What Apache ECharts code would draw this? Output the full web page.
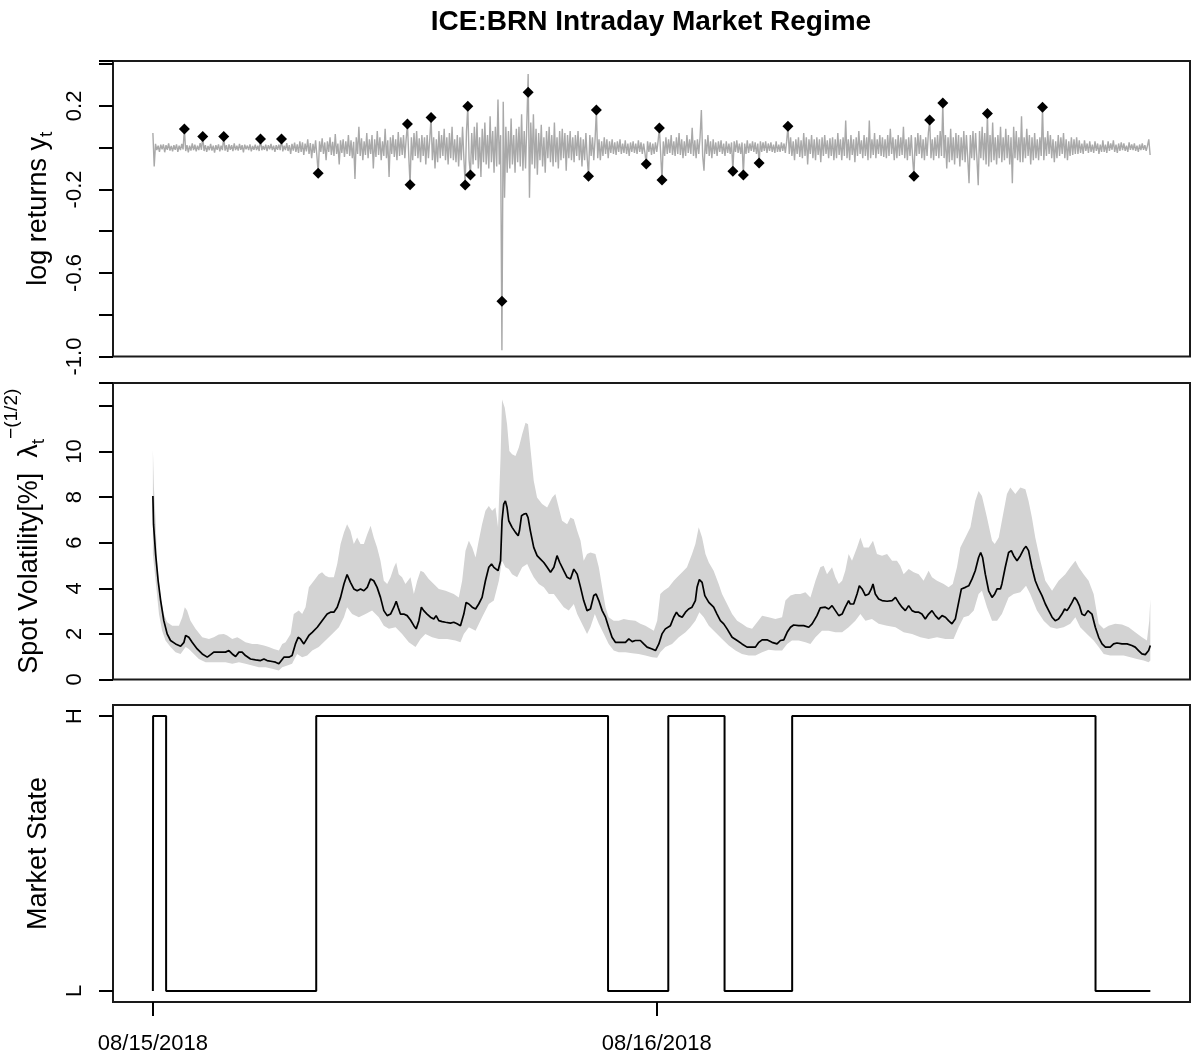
<!DOCTYPE html>
<html>
<head>
<meta charset="utf-8">
<script src="https://cdn.jsdelivr.net/npm/echarts@6/dist/echarts.min.js"></script>
<style>html,body{margin:0;padding:0;background:#fff}#c{width:1193px;height:1055px}</style>
</head>
<body>
<div id="c"></div>
<script>
// ---------- DATA ----------
var titleText = 'ICE:BRN Intraday Market Regime';
var dateTicks = [0, 24];
var dateLabels = ['08/15/2018', '08/16/2018'];
var retTicksLabelled = ['0.2', '-0.2', '-0.6', '-1.0'];
var stateLabels = ['L', 'H'];

// log returns on a regular grid, step (hours); one row = one hour
var retStep = 0.0625;
var retVals = [
0.07,-0.09,0.018,-0.012,0.01,-0.02,0.014,-0.008,0.016,-0.022,0.012,-0.01,0.02,-0.014,0.008,-0.018,
0.012,-0.01,0.016,-0.02,0.01,-0.012,0.018,-0.008,0.089,-0.016,0.012,-0.022,0.01,-0.014,0.02,-0.012,
0.014,-0.018,0.01,-0.012,0.022,-0.01,0.053,-0.016,0.012,-0.02,0.008,-0.012,0.018,-0.014,0.01,-0.024,
0.012,-0.01,0.016,-0.018,0.01,-0.012,0.053,-0.014,0.012,-0.02,0.016,-0.01,0.012,-0.016,0.02,-0.012,
0.01,-0.014,0.018,-0.01,0.012,-0.022,0.014,-0.008,0.01,-0.012,0.016,-0.018,0.008,-0.01,0.014,-0.012,
0.01,-0.016,0.042,-0.012,0.008,-0.01,0.014,-0.016,0.012,-0.008,0.018,-0.012,0.01,-0.02,0.012,-0.01,
0.014,-0.012,0.042,-0.018,0.01,-0.012,0.022,-0.016,0.012,-0.03,0.018,-0.014,0.024,-0.02,0.016,-0.025,
0.03,-0.02,0.025,-0.035,0.02,-0.018,0.04,-0.03,0.022,-0.05,0.018,-0.025,0.035,-0.04,-0.123,0.03,
-0.02,0.045,-0.03,0.025,-0.06,0.03,-0.02,0.05,-0.035,0.028,-0.04,0.065,-0.03,0.02,-0.08,0.035,
-0.025,0.04,-0.045,0.03,-0.03,0.06,-0.04,0.035,-0.05,0.028,-0.15,0.05,-0.03,0.1,-0.04,0.045,
-0.06,0.03,-0.035,0.07,-0.05,0.04,-0.03,0.06,-0.1,0.04,-0.045,0.08,-0.035,0.05,-0.06,0.03,
-0.04,0.09,-0.05,0.035,-0.14,0.05,-0.03,0.06,-0.045,0.04,-0.06,0.075,-0.04,0.05,-0.035,0.06,
-0.05,0.04,0.113,-0.04,-0.177,0.05,-0.06,0.07,-0.04,0.08,-0.05,0.045,-0.07,0.06,-0.04,0.05,
-0.08,0.06,-0.05,0.04,0.145,-0.06,0.05,-0.1,0.04,-0.07,0.08,-0.05,0.06,-0.04,0.09,-0.06,
0.05,-0.08,0.07,-0.05,0.1,-0.06,0.04,-0.07,0.06,-0.09,0.05,-0.06,0.1,-0.05,-0.179,0.08,
0.198,-0.06,-0.131,0.07,-0.08,0.1,-0.06,0.12,-0.1,0.05,-0.14,0.09,-0.07,0.12,-0.08,0.06,
-0.1,0.15,-0.07,0.08,-0.12,0.1,-0.09,0.23,-0.08,0.06,-0.97,0.22,-0.24,0.1,-0.12,0.08,
-0.1,0.14,-0.08,0.06,-0.12,0.09,-0.07,0.1,-0.09,0.16,-0.11,0.08,-0.1,0.12,0.353,-0.24,
0.12,-0.08,0.16,-0.1,0.09,-0.13,0.07,-0.06,0.11,-0.09,0.05,-0.12,0.08,-0.05,0.1,-0.07,
0.06,-0.09,0.12,-0.07,0.05,-0.1,0.08,-0.06,0.09,-0.05,0.07,-0.11,0.06,-0.05,0.08,-0.06,
0.05,-0.07,0.06,-0.04,0.08,-0.06,0.05,-0.09,0.04,-0.06,0.07,-0.05,-0.137,0.06,-0.04,0.05,
-0.06,0.04,0.18,-0.05,0.04,-0.06,0.03,-0.04,0.05,-0.03,0.04,-0.05,0.03,-0.025,0.04,-0.03,
0.025,-0.035,0.03,-0.02,0.04,-0.03,0.02,-0.025,0.035,-0.03,0.02,-0.04,0.025,-0.02,0.03,-0.025,
0.02,-0.03,0.035,-0.02,0.025,-0.03,0.02,-0.025,-0.078,0.03,-0.02,0.025,-0.035,0.02,-0.03,0.025,
-0.02,0.03,0.094,-0.03,-0.155,0.03,-0.04,0.05,-0.03,0.04,-0.025,0.06,-0.035,0.03,-0.04,0.05,
-0.03,0.07,-0.035,0.04,-0.05,0.03,-0.04,0.06,-0.025,0.04,-0.03,0.095,-0.04,0.035,-0.05,0.04,
-0.03,0.05,0.18,-0.04,-0.11,0.04,-0.03,0.06,-0.04,0.03,-0.05,0.04,-0.03,0.025,-0.04,0.03,
-0.02,0.035,-0.03,0.02,-0.04,0.03,-0.025,0.02,-0.03,0.025,-0.113,0.03,-0.02,0.035,-0.025,0.02,
-0.03,0.025,-0.131,0.02,-0.03,0.035,-0.025,0.02,-0.015,0.03,-0.02,0.025,-0.03,0.02,-0.073,0.03,
-0.02,0.025,-0.015,0.03,-0.025,0.02,-0.015,0.025,-0.02,0.015,-0.025,0.03,-0.02,0.015,-0.02,0.025,
-0.015,0.02,-0.025,0.03,0.102,-0.03,0.05,-0.04,0.03,-0.06,0.04,-0.03,0.05,-0.045,0.035,-0.05,
0.07,-0.04,0.05,-0.08,0.04,-0.03,0.06,-0.05,0.04,-0.06,0.05,-0.035,0.04,-0.07,0.05,-0.04,
0.06,-0.03,0.035,-0.05,0.045,-0.04,0.05,-0.06,0.04,-0.05,0.07,-0.035,0.04,-0.06,0.05,-0.04,
0.13,-0.05,0.04,-0.06,0.06,-0.035,0.04,-0.07,0.05,-0.04,0.08,-0.03,0.035,-0.05,0.06,-0.04,
0.05,-0.06,0.13,-0.05,0.04,-0.035,0.07,-0.05,0.04,-0.03,0.06,-0.04,0.05,-0.045,0.04,-0.05,
0.06,-0.04,0.09,-0.03,0.05,-0.06,0.04,-0.05,0.06,-0.04,0.05,-0.035,0.1,-0.05,0.04,-0.06,
0.05,-0.04,0.06,-0.05,-0.137,0.05,-0.04,0.07,-0.03,0.06,-0.05,0.04,-0.06,0.05,-0.04,0.07,
0.133,-0.05,0.04,-0.06,0.05,-0.04,0.06,-0.05,0.08,-0.04,0.214,-0.05,0.06,-0.1,0.05,-0.07,
0.09,-0.06,0.05,-0.08,0.07,-0.05,0.06,-0.09,0.05,-0.06,0.08,-0.07,0.06,-0.05,-0.17,0.06,
-0.05,0.08,-0.06,0.07,-0.05,-0.18,0.08,-0.05,0.1,-0.06,0.07,-0.08,0.164,-0.09,0.06,-0.07,
0.12,-0.06,0.05,-0.08,0.06,-0.05,0.1,-0.07,0.05,-0.06,0.09,-0.05,0.06,-0.08,0.05,-0.17,
0.1,-0.05,0.08,-0.06,0.05,-0.07,0.15,-0.07,0.05,-0.05,0.09,-0.04,0.06,-0.08,0.05,-0.06,
0.07,-0.05,0.04,-0.06,0.05,-0.04,0.193,-0.06,0.05,-0.04,0.08,-0.03,0.06,-0.05,0.04,-0.07,
0.03,-0.05,0.06,-0.04,0.05,-0.03,0.07,-0.05,0.04,-0.06,0.03,-0.04,0.05,-0.035,0.04,-0.03,
0.05,-0.03,0.035,-0.025,0.02,-0.03,0.035,-0.015,0.02,-0.025,0.03,-0.02,0.015,-0.025,0.03,-0.015,
0.02,-0.03,0.015,-0.02,0.035,-0.02,0.015,-0.025,0.03,-0.015,0.02,-0.01,0.035,-0.02,0.015,-0.025,
0.02,-0.015,0.025,-0.012,0.02,-0.015,0.01,-0.02,0.025,-0.01,0.015,-0.012,0.02,-0.015,0.01,-0.02,
0.015,-0.012,0.02,-0.01,0.012,-0.015,0.01,0.04,-0.035
];

// detected jumps [hours, size]
var jumps = [
[1.5,0.089],[2.375,0.053],[3.375,0.053],[5.125,0.042],[6.125,0.042],[7.875,-0.123],
[12.125,0.113],[12.25,-0.177],[13.25,0.145],[14.875,-0.179],[15.0,0.198],[15.125,-0.131],
[16.625,-0.736],[17.875,0.265],[20.75,-0.137],[21.125,0.18],[23.5,-0.078],[24.125,0.094],
[24.25,-0.155],[27.625,-0.113],[28.125,-0.131],[28.875,-0.073],[30.25,0.102],[36.25,-0.137],
[37.0,0.133],[37.625,0.214],[39.75,0.164],[42.375,0.193]
];

// spot volatility (%) posterior mean [hours, value]
var volMid = [
[0,8.05],[0.03,6.81],[0.13,5.50],[0.25,4.33],[0.37,3.46],[0.52,2.58],[0.68,2.00],[0.84,1.71],[1.08,1.56],[1.32,1.46],[1.48,1.63],[1.56,1.93],[1.71,1.85],[1.87,1.63],[2.11,1.34],[2.35,1.12],[2.59,0.98],[2.75,1.09],[2.90,1.20],[3.14,1.20],[3.46,1.20],[3.62,1.27],[3.78,1.12],[3.94,1.01],[4.10,1.20],[4.25,1.20],[4.41,1.05],[4.65,0.90],[4.89,0.86],[5.13,0.83],[5.29,0.90],[5.44,0.83],[5.68,0.79],[5.84,0.76],[6.00,0.69],[6.08,0.66],[6.24,0.98],[6.48,0.98],[6.63,1.05],[6.79,1.56],[6.92,1.85],[7.03,1.78],[7.19,1.56],[7.27,1.56],[7.43,1.93],[7.59,2.07],[7.83,2.29],[8.06,2.58],[8.30,2.87],[8.46,2.95],[8.62,2.95],[8.78,3.17],[8.94,3.60],[9.10,4.19],[9.25,4.60],[9.41,4.26],[9.57,3.97],[9.73,3.89],[9.89,3.97],[10.05,3.89],[10.21,4.04],[10.37,4.41],[10.52,4.33],[10.68,4.04],[10.84,3.60],[11.00,3.02],[11.16,2.80],[11.32,2.87],[11.48,3.17],[11.59,3.43],[11.68,3.17],[11.79,2.87],[11.95,2.87],[12.11,2.80],[12.27,2.61],[12.43,2.36],[12.54,2.22],[12.67,2.58],[12.79,3.17],[12.90,3.02],[13.06,2.87],[13.22,2.73],[13.38,2.65],[13.49,2.80],[13.62,2.58],[13.78,2.54],[13.94,2.51],[14.17,2.47],[14.33,2.51],[14.49,2.44],[14.65,2.36],[14.81,2.87],[14.92,3.38],[15.05,3.31],[15.21,3.17],[15.37,3.09],[15.52,3.31],[15.68,3.60],[15.84,4.33],[16.00,4.92],[16.13,5.06],[16.24,4.92],[16.32,4.84],[16.44,4.77],[16.56,5.21],[16.63,6.96],[16.71,7.69],[16.79,7.83],[16.87,7.54],[16.95,6.96],[17.11,6.67],[17.27,6.45],[17.40,6.30],[17.46,6.52],[17.56,7.18],[17.67,7.25],[17.78,7.28],[17.87,7.10],[17.98,6.52],[18.14,5.79],[18.30,5.43],[18.46,5.28],[18.62,5.13],[18.78,4.92],[18.94,4.70],[19.10,4.92],[19.25,5.43],[19.38,5.13],[19.57,4.77],[19.73,4.48],[19.89,4.41],[20.05,4.84],[20.21,4.62],[20.37,4.04],[20.52,3.46],[20.68,3.02],[20.84,3.09],[21.00,3.68],[21.11,3.75],[21.24,3.46],[21.40,3.02],[21.56,2.73],[21.71,2.29],[21.87,1.85],[22.03,1.63],[22.35,1.63],[22.51,1.63],[22.67,1.78],[22.83,1.66],[22.98,1.71],[23.22,1.71],[23.38,1.56],[23.54,1.42],[23.78,1.34],[23.94,1.27],[24.10,1.56],[24.25,2.00],[24.41,2.22],[24.65,2.36],[24.81,2.73],[24.94,2.95],[25.05,2.80],[25.21,2.73],[25.37,2.95],[25.52,3.09],[25.68,3.17],[25.84,3.46],[25.92,4.04],[26.03,4.38],[26.16,4.26],[26.29,3.68],[26.48,3.38],[26.71,3.17],[26.87,2.87],[27.03,2.58],[27.19,2.44],[27.35,2.22],[27.59,1.85],[27.83,1.71],[28.06,1.56],[28.30,1.42],[28.54,1.42],[28.70,1.42],[28.86,1.63],[29.02,1.74],[29.25,1.74],[29.49,1.63],[29.73,1.56],[29.89,1.71],[30.05,1.74],[30.21,2.07],[30.37,2.29],[30.52,2.39],[30.76,2.36],[31.00,2.36],[31.24,2.29],[31.40,2.44],[31.63,2.80],[31.79,3.14],[32.03,3.17],[32.19,3.09],[32.35,3.24],[32.51,3.02],[32.67,2.80],[32.83,2.87],[32.98,3.17],[33.14,3.46],[33.22,3.31],[33.38,3.31],[33.54,3.75],[33.65,4.11],[33.78,3.97],[33.94,3.68],[34.10,3.75],[34.22,3.97],[34.30,4.19],[34.41,3.75],[34.57,3.53],[34.73,3.46],[34.97,3.43],[35.21,3.46],[35.37,3.60],[35.52,3.38],[35.68,3.17],[35.84,3.02],[36.00,3.24],[36.16,3.02],[36.32,2.95],[36.48,2.95],[36.63,2.87],[36.79,2.65],[36.95,2.87],[37.11,3.02],[37.27,2.80],[37.43,2.65],[37.59,2.80],[37.75,2.73],[37.90,2.58],[38.06,2.44],[38.22,2.65],[38.38,3.38],[38.51,3.97],[38.70,4.04],[38.86,4.11],[39.02,4.41],[39.17,4.77],[39.33,5.35],[39.43,5.57],[39.52,5.35],[39.65,4.62],[39.81,3.89],[39.97,3.60],[40.10,3.75],[40.21,3.97],[40.37,3.97],[40.44,4.19],[40.60,4.92],[40.76,5.57],[40.89,5.65],[41.00,5.43],[41.16,5.21],[41.32,5.43],[41.48,5.72],[41.59,5.84],[41.71,5.65],[41.87,4.92],[42.03,4.33],[42.19,3.97],[42.35,3.68],[42.51,3.31],[42.67,3.02],[42.83,2.73],[42.98,2.58],[43.14,2.65],[43.30,2.87],[43.43,3.09],[43.54,3.02],[43.65,3.17],[43.78,3.38],[43.90,3.60],[44.02,3.46],[44.13,3.24],[44.25,2.87],[44.38,2.80],[44.54,3.02],[44.73,2.87],[44.89,2.29],[45.05,1.85],[45.21,1.56],[45.37,1.42],[45.60,1.42],[45.76,1.56],[45.92,1.60],[46.16,1.56],[46.40,1.56],[46.63,1.49],[46.79,1.42],[46.95,1.27],[47.11,1.12],[47.27,1.09],[47.43,1.27],[47.51,1.49]
];

// upper credible bound [hours, value]
var volHi = [
[0,10.09],[0.05,8.42],[0.13,6.96],[0.21,4.92],[0.37,3.60],[0.52,2.87],[0.68,2.51],[0.92,2.36],[1.24,2.36],[1.40,2.73],[1.52,3.17],[1.63,3.02],[1.79,2.58],[2.03,2.22],[2.35,1.85],[2.67,1.78],[2.90,1.85],[3.14,1.97],[3.38,2.00],[3.54,1.93],[3.78,1.78],[4.02,1.85],[4.17,1.78],[4.41,1.63],[4.73,1.56],[4.97,1.56],[5.29,1.49],[5.52,1.42],[5.76,1.34],[6.00,1.27],[6.16,1.56],[6.32,1.63],[6.56,2.00],[6.71,2.87],[6.95,3.02],[7.11,2.87],[7.27,3.17],[7.43,4.04],[7.67,4.33],[7.90,4.62],[8.06,4.70],[8.22,4.55],[8.38,4.48],[8.62,4.48],[8.78,5.06],[8.94,5.94],[9.10,6.45],[9.25,6.81],[9.41,6.52],[9.57,5.94],[9.73,6.23],[9.89,5.94],[10.05,5.94],[10.21,6.37],[10.37,6.74],[10.52,6.23],[10.68,5.79],[10.84,5.21],[11.00,4.33],[11.16,4.19],[11.32,4.48],[11.48,4.92],[11.59,5.13],[11.71,4.62],[11.87,4.48],[12.03,4.19],[12.27,4.48],[12.43,3.75],[12.59,4.33],[12.75,4.77],[12.90,4.70],[13.14,4.41],[13.38,4.19],[13.62,3.97],[13.94,3.89],[14.33,3.75],[14.57,3.60],[14.73,4.33],[14.89,5.65],[15.05,6.08],[15.21,5.79],[15.37,5.35],[15.52,6.08],[15.68,6.81],[15.84,7.40],[16.00,7.61],[16.16,7.40],[16.32,7.54],[16.44,6.67],[16.56,9.73],[16.63,12.28],[16.76,11.92],[16.87,11.19],[16.98,10.02],[17.11,9.88],[17.27,9.80],[17.43,10.17],[17.59,10.75],[17.75,11.26],[17.87,11.19],[17.98,10.17],[18.14,8.71],[18.30,7.98],[18.54,7.69],[18.78,7.54],[19.02,7.98],[19.17,8.13],[19.33,7.54],[19.49,6.96],[19.73,6.81],[19.89,7.10],[20.05,7.03],[20.21,6.52],[20.37,6.08],[20.52,5.21],[20.68,5.50],[20.84,5.57],[21.08,5.50],[21.24,4.92],[21.40,4.04],[21.56,3.17],[21.71,2.73],[21.95,2.58],[22.19,2.58],[22.43,2.65],[22.67,2.61],[22.98,2.58],[23.22,2.44],[23.46,2.36],[23.70,2.22],[23.86,2.14],[24.02,2.58],[24.17,3.75],[24.33,3.89],[24.57,4.04],[24.81,4.33],[24.97,4.48],[25.21,4.70],[25.44,4.92],[25.68,5.50],[25.84,5.94],[26.00,6.67],[26.16,6.23],[26.32,5.50],[26.48,5.13],[26.71,4.77],[26.95,4.19],[27.11,3.75],[27.35,3.31],[27.59,2.87],[27.83,2.58],[28.06,2.44],[28.30,2.29],[28.54,2.22],[28.78,2.51],[29.02,2.80],[29.33,2.73],[29.65,2.65],[29.97,2.73],[30.13,3.46],[30.37,3.68],[30.60,3.75],[30.84,3.75],[31.08,3.82],[31.32,3.60],[31.56,4.33],[31.79,4.92],[31.95,4.99],[32.11,4.62],[32.35,4.92],[32.51,4.48],[32.67,4.19],[32.83,4.33],[32.98,4.77],[33.14,5.50],[33.30,5.21],[33.54,5.79],[33.70,6.23],[33.86,5.79],[34.10,5.79],[34.30,6.08],[34.49,5.50],[34.73,5.43],[34.97,5.50],[35.21,5.21],[35.44,5.21],[35.60,4.99],[35.76,4.62],[36.00,4.84],[36.24,4.70],[36.48,4.62],[36.71,4.33],[36.95,4.77],[37.11,4.48],[37.35,4.33],[37.67,4.19],[37.90,4.04],[38.10,4.19],[38.30,4.92],[38.46,5.79],[38.70,6.23],[38.94,6.67],[39.17,7.83],[39.33,8.27],[39.49,8.05],[39.73,7.10],[39.97,6.08],[40.10,5.94],[40.29,6.23],[40.44,6.96],[40.68,8.13],[40.84,8.42],[41.08,8.13],[41.32,8.42],[41.56,8.34],[41.71,7.83],[41.87,7.10],[42.03,6.23],[42.27,5.21],[42.51,4.33],[42.83,3.89],[43.14,4.33],[43.46,4.62],[43.70,4.92],[43.94,5.21],[44.10,4.92],[44.33,4.62],[44.57,4.33],[44.81,3.75],[45.05,2.44],[45.29,2.22],[45.52,2.36],[45.84,2.44],[46.16,2.41],[46.48,2.29],[46.79,2.07],[47.11,1.85],[47.35,1.71],[47.46,2.58],[47.51,3.53]
];

// lower credible bound [hours, value]
var volLo = [
[0,5.50],[0.13,4.33],[0.29,2.87],[0.44,2.14],[0.60,1.71],[0.84,1.42],[1.08,1.20],[1.32,1.12],[1.56,1.42],[1.71,1.34],[1.95,1.12],[2.19,0.90],[2.51,0.76],[2.83,0.76],[3.14,0.76],[3.46,0.76],[3.78,0.69],[4.10,0.76],[4.41,0.69],[4.73,0.61],[5.05,0.54],[5.37,0.54],[5.68,0.47],[6.00,0.39],[6.16,0.54],[6.40,0.61],[6.63,0.69],[6.87,1.12],[7.11,0.98],[7.35,1.05],[7.59,1.27],[7.90,1.42],[8.22,1.71],[8.54,2.00],[8.86,2.29],[9.10,2.73],[9.25,3.17],[9.49,2.87],[9.81,2.73],[10.13,2.87],[10.44,3.02],[10.76,2.73],[11.00,2.36],[11.24,2.22],[11.56,2.29],[11.87,2.00],[12.19,1.63],[12.51,1.42],[12.75,1.78],[12.98,2.00],[13.30,1.85],[13.62,1.78],[14.02,1.78],[14.41,1.71],[14.65,1.63],[14.81,2.00],[15.05,2.29],[15.37,2.14],[15.68,2.73],[16.00,3.31],[16.24,3.46],[16.48,4.33],[16.63,5.21],[16.79,4.92],[16.95,4.84],[17.11,4.62],[17.35,4.48],[17.59,4.92],[17.83,5.06],[17.98,4.77],[18.14,4.48],[18.38,4.19],[18.62,4.04],[18.86,3.75],[19.10,3.75],[19.33,3.46],[19.57,3.17],[19.81,3.02],[20.05,3.31],[20.21,2.87],[20.44,2.44],[20.68,2.00],[20.84,2.29],[21.05,2.87],[21.24,2.44],[21.48,2.00],[21.71,1.56],[21.95,1.27],[22.19,1.20],[22.51,1.20],[22.83,1.15],[23.14,1.12],[23.46,1.05],[23.78,0.98],[24.02,0.95],[24.17,1.20],[24.41,1.42],[24.73,1.56],[25.05,1.85],[25.37,2.07],[25.60,2.29],[25.84,2.58],[26.03,2.95],[26.24,2.73],[26.48,2.36],[26.79,2.07],[27.11,1.78],[27.43,1.49],[27.75,1.27],[28.06,1.12],[28.38,1.05],[28.70,1.05],[29.02,1.20],[29.33,1.30],[29.65,1.27],[29.97,1.27],[30.21,1.56],[30.44,1.71],[30.76,1.71],[31.08,1.63],[31.32,1.56],[31.56,1.85],[31.87,2.14],[32.19,2.14],[32.51,2.07],[32.83,2.07],[33.14,2.29],[33.46,2.58],[33.70,2.87],[33.94,2.58],[34.25,2.65],[34.57,2.44],[34.97,2.36],[35.37,2.29],[35.76,2.07],[36.16,2.00],[36.56,1.85],[36.95,1.78],[37.35,1.85],[37.75,1.78],[38.14,1.78],[38.38,2.29],[38.62,2.73],[38.86,2.80],[39.10,3.02],[39.33,3.75],[39.49,3.89],[39.73,3.17],[39.97,2.58],[40.21,2.58],[40.44,2.87],[40.76,3.60],[41.00,3.75],[41.32,3.82],[41.59,4.11],[41.79,3.75],[42.11,3.02],[42.43,2.58],[42.75,2.29],[43.06,2.22],[43.38,2.29],[43.70,2.44],[43.94,2.73],[44.17,2.29],[44.49,2.00],[44.81,1.71],[45.05,1.42],[45.29,1.12],[45.60,1.05],[45.92,1.05],[46.24,1.05],[46.56,0.98],[46.87,0.90],[47.19,0.83],[47.43,0.76],[47.51,0.83]
];

// market state changes: time (hours) where a state begins, state 0=L, 1=H
var stateT = [0, 0.01, 0.63, 7.78, 21.68, 24.55, 27.23, 30.45, 44.90, 47.51];
var stateV = [0, 1, 0, 1, 0, 1, 0, 1, 0, 0];

// ---------- CHART ----------
var FONT = 'Liberation Sans, Arial, Helvetica, sans-serif';
var retData = retVals.map(function (v, i) { return [i * retStep, v]; });
var stateData = stateT.map(function (t, i) { return [t, stateV[i]]; });

var X_MIN = -1.9, X_MAX = 49.4;
var gridBase = { left: 113, right: 3, show: true, borderColor: '#1a1a1a', borderWidth: 2,
  backgroundColor: 'transparent', containLabel: false, outerBoundsMode: 'none' };
function g(top, height) { var o = Object.assign({}, gridBase); o.top = top; o.height = height; return o; }

function hiddenX(idx) {
  return { type: 'value', gridIndex: idx, min: X_MIN, max: X_MAX, show: true,
    axisLine: { show: false, onZero: false }, axisTick: { show: false }, axisLabel: { show: false }, splitLine: { show: false } };
}
var tickStyle = { show: true, length: 14, inside: false, lineStyle: { color: '#000', width: 2 } };
var labelBase = { color: '#000', fontFamily: FONT, fontSize: 22 };

var chart = echarts.init(document.getElementById('c'), null, { renderer: 'canvas' });
chart.setOption({
  animation: false,
  backgroundColor: '#fff',
  title: {
    text: titleText, left: 651, top: 8, padding: 0, textAlign: 'center',
    textStyle: { fontFamily: FONT, fontWeight: 'bold', fontSize: 28, color: '#000' }
  },
  grid: [g(61, 295.5), g(383, 296.5), g(705, 297)],
  xAxis: [
    hiddenX(0), hiddenX(1),
    { type: 'value', gridIndex: 2, min: X_MIN, max: X_MAX, position: 'bottom',
      axisLine: { show: false, onZero: false }, splitLine: { show: false },
      axisTick: Object.assign({ customValues: dateTicks }, tickStyle),
      axisLabel: Object.assign({ customValues: dateTicks, margin: 31,
        formatter: function (v) { var i = dateTicks.indexOf(v); return i >= 0 ? dateLabels[i] : ''; } }, labelBase)
    }
  ],
  yAxis: [
    { type: 'value', gridIndex: 0, min: -1.0, max: 0.415, interval: 0.2, position: 'left',
      axisLine: { show: false, onZero: false }, splitLine: { show: false }, axisTick: tickStyle,
      axisLabel: Object.assign({ rotate: 90, margin: 27, showMinLabel: true,
        formatter: function (v) { var s = (Math.round(v * 10) / 10).toFixed(1); return retTicksLabelled.indexOf(s) >= 0 ? s : ''; } }, labelBase),
      name: 'log returns y{s|t}', nameLocation: 'middle', nameGap: 54,
      nameTextStyle: { fontFamily: FONT, fontSize: 27, color: '#000', lineHeight: 36,
        rich: { s: { fontFamily: FONT, fontSize: 19, lineHeight: 19, verticalAlign: 'bottom', color: '#000' } } }
    },
    { type: 'value', gridIndex: 1, min: 0, max: 13, interval: 2, position: 'left',
      axisLine: { show: false, onZero: false }, splitLine: { show: false }, axisTick: tickStyle,
      axisLabel: Object.assign({ rotate: 90, margin: 27, showMinLabel: true,
        formatter: function (v) { return v > 11 ? '' : String(v); } }, labelBase),
      name: 'Spot Volatility[%]  λ{s|t}{p|−(1/2)}', nameLocation: 'middle', nameGap: 39,
      nameTextStyle: { fontFamily: FONT, fontSize: 27, color: '#000', lineHeight: 54,
        rich: {
          s: { fontFamily: FONT, fontSize: 19, lineHeight: 19, verticalAlign: 'bottom', padding: [0, 0, 8, 0], color: '#000' },
          p: { fontFamily: FONT, fontSize: 19, lineHeight: 19, verticalAlign: 'top', color: '#000' }
        } }
    },
    { type: 'value', gridIndex: 2, min: -0.04, max: 1.04, position: 'left',
      axisLine: { show: false, onZero: false }, splitLine: { show: false },
      axisTick: Object.assign({ customValues: [0, 1] }, tickStyle),
      axisLabel: Object.assign({ customValues: [0, 1], rotate: 90, margin: 27,
        formatter: function (v) { return stateLabels[Math.round(v)] || ''; } }, labelBase),
      name: 'Market State', nameLocation: 'middle', nameGap: 50,
      nameTextStyle: { fontFamily: FONT, fontSize: 27, color: '#000', lineHeight: 36 }
    }
  ],
  series: [
    { type: 'line', xAxisIndex: 0, yAxisIndex: 0, data: retData, showSymbol: false, symbol: 'none',
      sampling: null, lineStyle: { color: '#A9A9A9', width: 1.4 }, z: 2, silent: true },
    { type: 'scatter', xAxisIndex: 0, yAxisIndex: 0, data: jumps, symbol: 'diamond', symbolSize: [11, 11],
      itemStyle: { color: '#000', opacity: 1 }, z: 3, silent: true },
    { type: 'custom', xAxisIndex: 1, yAxisIndex: 1, data: [[0, 0]], z: 1, silent: true, clip: true,
      renderItem: function (params, api) {
        var pts = [];
        for (var i = 0; i < volHi.length; i++) pts.push(api.coord(volHi[i]));
        for (var j = volLo.length - 1; j >= 0; j--) pts.push(api.coord(volLo[j]));
        return { type: 'polygon', shape: { points: pts }, style: { fill: '#D3D3D3', stroke: null } };
      } },
    { type: 'line', xAxisIndex: 1, yAxisIndex: 1, data: volMid, showSymbol: false, symbol: 'none',
      lineStyle: { color: '#000', width: 1.7 }, z: 3, silent: true },
    { type: 'line', xAxisIndex: 2, yAxisIndex: 2, data: stateData, step: 'end', showSymbol: false, symbol: 'none',
      lineStyle: { color: '#000', width: 2 }, z: 3, silent: true }
  ]
});
</script>
</body>
</html>
